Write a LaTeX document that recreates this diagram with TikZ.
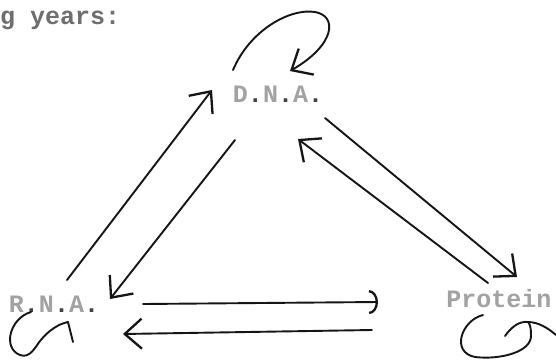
\documentclass[tikz,border=0pt]{standalone}
\usepackage{fontspec}
\setmonofont{Liberation Mono}
\usetikzlibrary{arrows.meta}
\definecolor{ink}{HTML}{151515}
\definecolor{typelight}{HTML}{A2A2A2}
\definecolor{typemid}{HTML}{6E6E6E}
\definecolor{typedot}{HTML}{404040}
\newcommand{\tdot}{{\color{typedot}.}}
\begin{document}
\begin{tikzpicture}[x=1pt,y=-1pt,
  lbl/.style={font=\ttfamily\bfseries\fontsize{25}{25}\selectfont, text=typelight, inner sep=0pt, anchor=base},
  stroke/.style={draw=ink, line width=1.9pt, line cap=round, line join=round},
  headv/.style={-{Straight Barb[length=17pt,width=30pt,line width=2.3pt]}},
  headarc/.style={-{Arc Barb[length=9pt,width=24pt,line width=2.3pt]}},
]
\useasboundingbox[fill=white] (0,0) rectangle (556,359);
\node[lbl, anchor=base west, text=typemid] (cap) at (0,24) {g years:};
\node[lbl] (dna) at (278,102) {D\tdot N\tdot A\tdot};
\node[lbl] (rna) at (54,312) {R\tdot N\tdot A\tdot};
\node[lbl] (prot) at (499,307) {Protein};
% connector end points
\coordinate (rd1) at (67,280);  \coordinate (rd2) at (212,90);
\coordinate (dr1) at (235,140); \coordinate (dr2) at (110,299);
\coordinate (dp1) at (325,118); \coordinate (dp2) at (517,277);
\coordinate (pd1) at (488,283); \coordinate (pd2) at (298,139);
\coordinate (rp1) at (143,304); \coordinate (rp2) at (378,302);
\coordinate (pr1) at (372,330); \coordinate (pr2) at (123,334);
% straight connectors
\draw[stroke,headv] (rd1) -- (rd2);
\draw[stroke,headv] (dr1) -- (dr2);
\draw[stroke,headv] (dp1) -- (dp2);
\draw[stroke,headv] (pd1) -- (pd2);
\draw[stroke,headarc] (rp1) -- (rp2);
\draw[stroke,headv] (pr1) -- (pr2);
% self loops
\coordinate (dl1) at (233,70); \coordinate (dl2) at (290,71);
\draw[stroke,headv] (dl1) .. controls (250,30) and (290,8) .. (315,12)
      .. controls (338,16) and (335,45) .. (dl2);
\coordinate (rl1) at (31,312); \coordinate (rl2) at (68,322);
\draw[stroke] (rl1) .. controls (10,318) and (2,348) .. (20,355)
      .. controls (30,359) and (36,346) .. (40,341)
      .. controls (48,331) and (58,324) .. (rl2) -- (73,342);
\coordinate (pl1) at (483,315); \coordinate (pl2) at (528,322);
\draw[stroke] (pl1) .. controls (462,320) and (450,352) .. (475,357)
      .. controls (500,360) and (532,352) .. (531,335)
      .. controls (531,328) and (530,324) .. (pl2);
\draw[stroke] (505,336) .. controls (512,326) and (520,321) .. (pl2)
      .. controls (538,322) and (548,328) .. (556,335);
\end{tikzpicture}
\end{document}
